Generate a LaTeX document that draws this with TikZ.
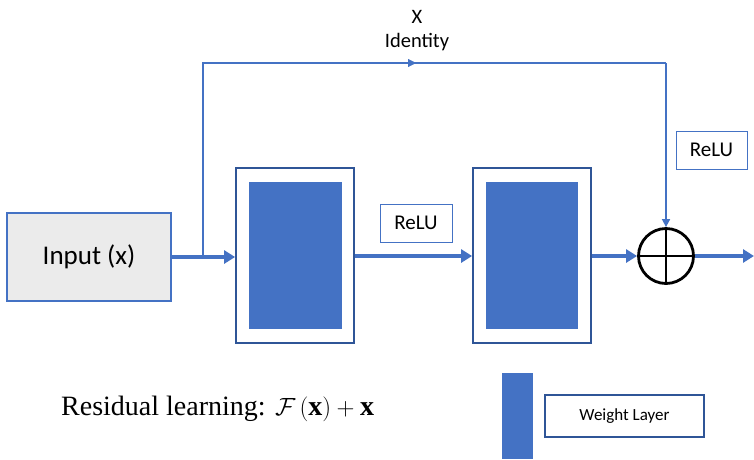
\documentclass[tikz,border=0pt]{standalone}
\usepackage{fontspec}
\setmainfont{Liberation Serif}
\newfontfamily\calibri{Carlito}
\usetikzlibrary{arrows.meta}
\definecolor{wblue}{HTML}{4472C4}
\definecolor{dblue}{HTML}{2F5597}
\definecolor{lgray}{HTML}{EBEBEB}
\tikzset{
  thickarr/.style={draw=wblue,line width=3.5pt,-{Triangle[length=11pt,width=13pt]}},
  thinline/.style={draw=wblue,line width=1.6pt},
  outerbox/.style={draw=dblue,line width=1.8pt,fill=white,inner sep=0pt},
  innerbox/.style={fill=wblue,draw=none,inner sep=0pt},
  relubox/.style={draw=wblue,line width=0.8pt,fill=white,font=\calibri\fontsize{21}{24}\selectfont,inner sep=0pt},
  sumcirc/.style={circle,draw=black,line width=2.8pt,minimum size=55pt,inner sep=0pt},
}
\begin{document}
\begin{tikzpicture}[x=1pt,y=-1pt]
\useasboundingbox (0,0) rectangle (754,459);
% input
\node[draw=wblue,line width=1.2pt,fill=lgray,minimum width=164pt,minimum height=88pt,inner sep=0pt,font=\calibri\fontsize{27}{30}\selectfont] (in) at (89,257) {Input (x)};
% weight layers
\node[outerbox,minimum width=118pt,minimum height=175pt] (b1) at (295,255.5) {};
\node[innerbox,minimum width=93pt,minimum height=147pt] (i1) at (b1.center) {};
\node[outerbox,minimum width=118pt,minimum height=175pt] (b2) at (532,255.5) {};
\node[innerbox,minimum width=92pt,minimum height=147pt] (i2) at (b2.center) {};
% relu boxes
\node[relubox,minimum width=72pt,minimum height=38pt] (r1) at (416,223) {ReLU};
\node[relubox,minimum width=71pt,minimum height=38pt] (r2) at (711.5,150) {ReLU};
% sum
\node[sumcirc] (s) at (666,256) {};
\draw[black,line width=2.8pt] (s.north) -- (s.south) (s.west) -- (s.east);
% coordinates
\coordinate (out) at (754,256);
\coordinate (br) at (203,257);
\coordinate (tl) at (203,63);
\coordinate (tr) at (666,63);
% connectors
\draw[thickarr] (in.east |- br) -- (b1.west |- br);
\draw[thickarr] (b1.east |- 0,256) -- (b2.west |- 0,256);
\draw[thickarr] (b2.east |- s) -- (s.west);
\draw[thickarr] (s.east) -- (out);
\draw[thinline] (br) -- (tl) -- (tr);
\draw[thinline,-{Triangle[length=8pt,width=8pt]}] (tr) -- (s.north);
\draw[wblue,-{Triangle[length=8pt,width=8pt]}] (tl) -- (416,63);
% labels
\node[font=\calibri\fontsize{20.5}{23}\selectfont] (xl) at (417,17) {X};
\node[font=\calibri\fontsize{20.5}{23}\selectfont] (il) at (417,42) {Identity};
% legend
\node[innerbox,minimum width=31pt,minimum height=86pt] (leg) at (517.5,416) {};
\node[draw=dblue,line width=1.8pt,fill=white,minimum width=159pt,minimum height=42pt,inner sep=0pt,font=\calibri\fontsize{17}{20}\selectfont] (wl) at (624.5,416) {Weight Layer};
\node[anchor=base west,inner sep=0pt,font=\fontsize{28}{31}\selectfont] (res) at (61,415) {Residual learning: $\mathcal{F}\,(\mathbf{x})+\mathbf{x}$};
\end{tikzpicture}
\end{document}
